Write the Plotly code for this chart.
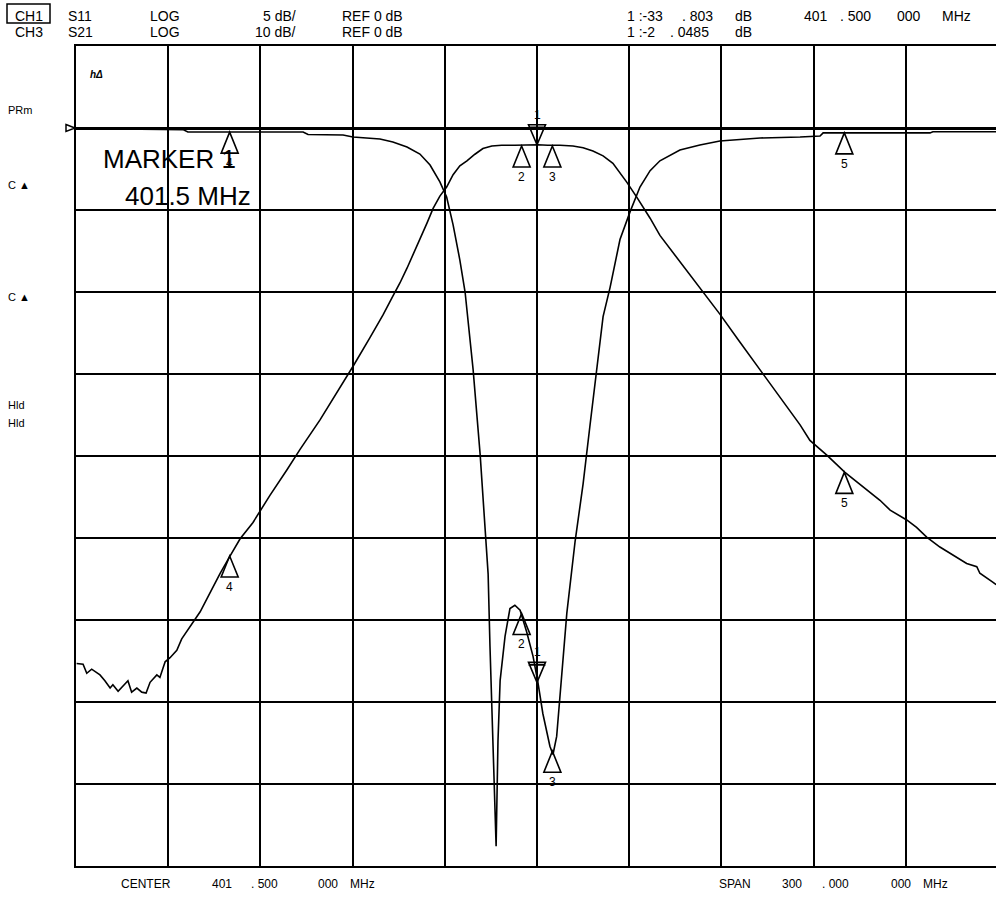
import plotly.graph_objects as go

# ---------------- data ----------------
center_mhz = 401.5
span_mhz = 300.0
s11_scale = 5     # dB/div (CH1 S11)
s21_scale = 10    # dB/div (CH3 S21)
ref_db = 0

s21_freq = [251.7, 253.8, 255.0, 256.6, 259.3, 260.9, 262.6, 263.5, 265.2, 266.8, 268.4, 269.6, 271.3,
            272.9, 274.3, 275.6, 277.8, 278.8, 280.5, 282.1, 284.3, 285.9, 289.2, 291.9, 295.1, 298.4,
            301.6, 304.9, 309.1, 312.0, 314.6, 320.1, 324.4, 330.9, 337.4, 341.9, 347.1, 351.4, 354.6,
            356.9, 359.2, 361.2, 363.4, 365.7, 367.7, 369.9, 372.1, 374.2, 376.4, 378.7, 381.3, 383.9,
            386.8, 390.0, 394.3, 398.0, 401.8, 405.0, 409.0, 413.2, 416.5, 419.7, 423.0, 426.2, 430.7,
            433.9, 438.3, 441.5, 448.0, 454.5, 461.0, 467.5, 474.1, 480.6, 487.1, 490.3, 495.8, 501.7,
            507.6, 513.1, 516.4, 521.8, 525.0, 528.3, 532.6, 536.9, 541.3, 544.6, 545.6, 549.9, 550.9]
s21_db = [-65.3, -65.4, -66.5, -66.0, -66.7, -67.4, -68.3, -67.9, -68.7, -68.1, -67.4, -68.8, -68.3,
          -68.8, -68.9, -67.6, -66.7, -67.0, -65.1, -64.6, -63.7, -62.3, -60.4, -59.0, -56.7, -54.3,
          -52.2, -50.1, -48.1, -46.3, -44.8, -41.7, -39.2, -35.6, -31.7, -28.9, -25.6, -22.8, -20.5,
          -18.9, -17.1, -15.4, -13.7, -11.6, -9.8, -8.3, -7.2, -5.7, -4.6, -4.0, -3.2, -2.5,
          -2.2, -2.1, -2.1, -2.05, -2.05, -2.1, -2.1, -2.2, -2.4, -2.8, -3.4, -4.3, -6.6,
          -8.4, -11.0, -13.1, -16.3, -19.5, -22.7, -26.1, -29.5, -32.9, -36.2, -38.1, -39.9, -42.0,
          -43.8, -45.4, -46.6, -47.8, -48.7, -49.9, -51.1, -52.1, -53.1, -53.5, -54.3, -55.4, -55.7]

s11_freq = [251.7, 286.3, 287.9, 311.4, 313.6, 325.4, 327.0, 338.4, 341.6, 350.4, 354.6, 359.2, 363.4,
            366.7, 369.9, 372.1, 374.2, 376.4, 378.1, 380.7, 383.0, 384.6, 385.6, 386.2, 387.2, 388.2,
            388.8, 389.5, 391.1, 392.7, 394.3, 396.0, 398.1, 400.2, 401.8, 403.4, 405.7, 406.7, 407.9,
            409.0, 411.2, 413.9, 416.5, 418.7, 420.9, 423.0, 425.3, 428.5, 431.8, 435.0, 438.3, 441.5,
            448.0, 454.5, 461.0, 474.1, 487.1, 493.6, 494.6, 529.4, 530.3, 550.9]
s11_db = [-0.02, -0.10, -0.24, -0.24, -0.21, -0.24, -0.40, -0.43, -0.55, -0.67, -0.85, -1.16, -1.59,
          -2.26, -3.29, -4.21, -5.91, -8.05, -10.0, -14.7, -19.9, -24.6, -27.2, -31.6, -37.4, -43.8,
          -37.4, -33.7, -31.0, -29.3, -29.1, -29.4, -30.7, -32.2, -33.8, -35.7, -37.7, -38.2, -37.1,
          -34.5, -29.6, -25.2, -21.7, -18.2, -14.7, -11.5, -9.7, -6.8, -5.1, -3.6, -2.6, -2.0,
          -1.34, -1.04, -0.79, -0.61, -0.55, -0.49, -0.30, -0.30, -0.23, -0.23]

marker_ids = ["1", "2", "3", "4", "5"]
marker_freq = [401.5, 396.5, 406.5, 301.5, 501.5]
s11_marker_db = [-33.803, -29.6, -38.0, -0.25, -0.3]
s21_marker_db = [-2.0485, -2.2, -2.2, -52.2, -42.0]

header_row1 = ["CH1", "S11", "LOG", "5 dB/", "REF 0 dB", "1 :-33", ". 803", "dB", "401", ". 500", "000", "MHz"]
header_row2 = ["CH3", "S21", "LOG", "10 dB/", "REF 0 dB", "1 :-2", ". 0485", "dB"]
footer_texts = ["CENTER", "401", ". 500", "000", "MHz", "SPAN", "300", ". 000", "000", "MHz"]
side_labels = ["PRm", "C \u25b2", "C \u25b2", "Hld", "Hld"]
marker_readout = ["MARKER 1", "401.5 MHz"]

# ---------------- layout helpers ----------------
W, H = 996, 898
PL, PR, PT, PB = 76, 998, 46, 866
FONT = "Liberation Sans, Arial, sans-serif"


def px(x):
    return x / W


def py(y):
    return 1 - y / H


start = center_mhz - span_mhz / 2
x_vis_end = start + span_mhz * (W - PL) / (PR - PL)

fig = go.Figure()
fig.add_trace(go.Scatter(x=s11_freq, y=s11_db, mode="lines", yaxis="y",
                         line=dict(color="black", width=1.6), hoverinfo="skip"))
fig.add_trace(go.Scatter(x=s21_freq, y=s21_db, mode="lines", yaxis="y2",
                         line=dict(color="black", width=1.6), hoverinfo="skip"))

fig.update_layout(
    width=W, height=H, margin=dict(l=0, r=0, t=0, b=0),
    paper_bgcolor="white", plot_bgcolor="white", showlegend=False,
    font=dict(family=FONT, color="black"),
    xaxis=dict(domain=[PL / W, 1], range=[start, x_vis_end], tick0=start, dtick=span_mhz / 10,
               showgrid=True, gridcolor="black", gridwidth=2, showticklabels=False, ticks="",
               zeroline=False, showline=True, linecolor="black", linewidth=2, mirror=True),
    yaxis=dict(domain=[1 - PB / H, 1 - PT / H],
               range=[ref_db - 9 * s11_scale, ref_db + s11_scale], tick0=ref_db, dtick=s11_scale,
               showgrid=True, gridcolor="black", gridwidth=2, showticklabels=False, ticks="",
               zeroline=True, zerolinecolor="black", zerolinewidth=3,
               showline=True, linecolor="black", linewidth=2),
    yaxis2=dict(overlaying="y", range=[ref_db - 9 * s21_scale, ref_db + s21_scale],
                visible=False, showgrid=False, zeroline=False),
)

shapes = []
annotations = []

# reference-level pointer on the left edge
shapes.append(dict(type="path", xref="paper", yref="y", xsizemode="pixel", ysizemode="pixel",
                   xanchor=PL / W, yanchor=ref_db, path="M -10 3.5 L -1 0 L -10 -3.5 Z",
                   line=dict(color="black", width=1.5), fillcolor="white"))

# markers
for mid, f, d11, d21 in zip(marker_ids, marker_freq, s11_marker_db, s21_marker_db):
    for yref, val in (("y", d11), ("y2", d21)):
        if mid == "1":
            path = "M 0 0 L -8.5 20 L 8.5 20 Z M -8.5 17.5 L 8.5 17.5"
            shift = 30
        else:
            path = "M 0 0 L -8.5 -21 L 8.5 -21 Z"
            shift = -31
        shapes.append(dict(type="path", xref="x", yref=yref, xsizemode="pixel", ysizemode="pixel",
                           xanchor=f, yanchor=val, path=path,
                           line=dict(color="black", width=1.6), fillcolor="rgba(0,0,0,0)"))
        annotations.append(dict(x=f, y=val, xref="x", yref=yref, text=mid, showarrow=False,
                                yshift=shift, font=dict(size=12, family=FONT, color="black")))

# header text
row1_x = [13, 66, 148, 298, 340, 625, 680, 733, 802, 838, 895, 940]
row2_x = [13, 66, 148, 298, 340, 625, 668, 733]
for row, xs, yy in ((header_row1, row1_x, 16), (header_row2, row2_x, 32)):
    for t, xx in zip(row, xs):
        anchor = "right" if t.endswith("dB/") else "left"
        annotations.append(dict(x=px(xx), y=py(yy), xref="paper", yref="paper", text=t,
                                showarrow=False, xanchor=anchor, yanchor="middle",
                                font=dict(size=14, family=FONT, color="black")))
shapes.append(dict(type="rect", xref="paper", yref="paper", x0=px(7), x1=px(50), y0=py(4), y1=py(23),
                   line=dict(color="black", width=1.5)))

# footer
foot_x = [119, 210, 249, 316, 348, 717, 780, 820, 889, 921]
for t, xx in zip(footer_texts, foot_x):
    annotations.append(dict(x=px(xx), y=py(884), xref="paper", yref="paper", text=t, showarrow=False,
                            xanchor="left", yanchor="middle",
                            font=dict(size=12, family=FONT, color="black")))

# side labels
side_y = [110, 185, 297, 405, 423]
for t, yy in zip(side_labels, side_y):
    annotations.append(dict(x=px(6), y=py(yy), xref="paper", yref="paper", text=t, showarrow=False,
                            xanchor="left", yanchor="middle",
                            font=dict(size=11, family=FONT, color="black")))

annotations.append(dict(x=px(88), y=py(75), xref="paper", yref="paper", text="<b><i>h\u0394</i></b>",
                        showarrow=False, xanchor="left", yanchor="middle",
                        font=dict(size=10, family=FONT, color="black")))

# big marker readout
for t, xx, yy in zip(marker_readout, [101, 123], [159, 196]):
    annotations.append(dict(x=px(xx), y=py(yy), xref="paper", yref="paper", text=t, showarrow=False,
                            xanchor="left", yanchor="middle",
                            font=dict(size=26, family=FONT, color="black")))

fig.update_layout(shapes=shapes, annotations=annotations)
fig.write_html("out.html", config={"displayModeBar": False},
               post_script="document.body.style.margin='0';document.body.style.overflow='hidden';")
